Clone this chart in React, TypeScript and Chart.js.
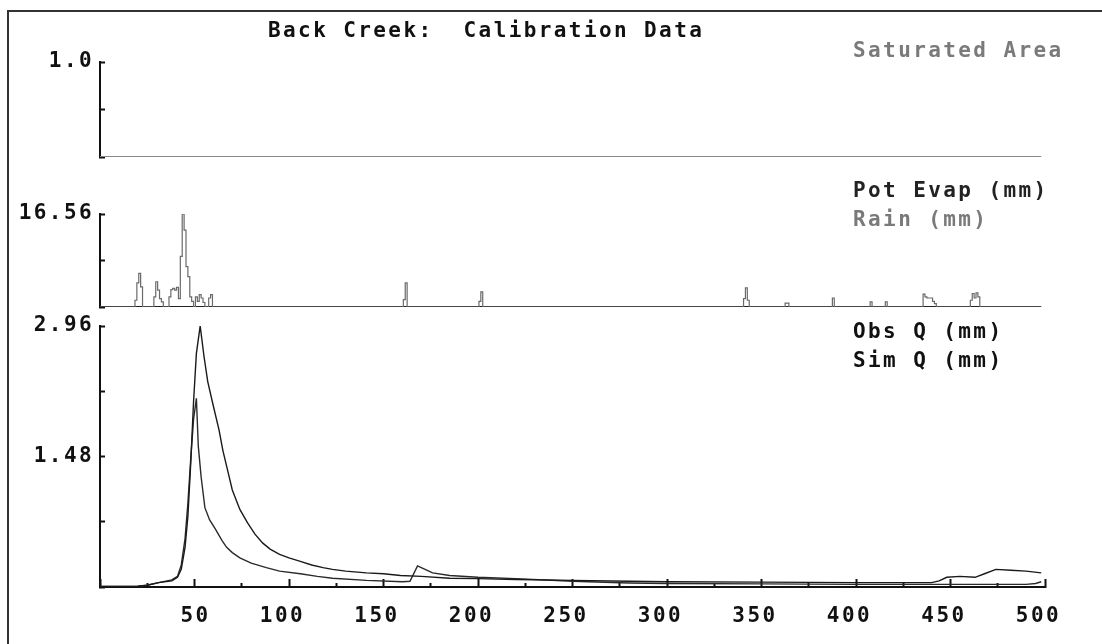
import { useEffect, useRef } from "react";
import { Chart, registerables } from "chart.js";

Chart.register(...registerables);

// ---- chart text -------------------------------------------------------
const TITLE = "Back Creek:  Calibration Data";
const SAT_LABEL = "Saturated Area";
const PE_LABEL = "Pot Evap (mm)";
const RAIN_LABEL = "Rain (mm)";
const OBS_LABEL = "Obs Q (mm)";
const SIM_LABEL = "Sim Q (mm)";

// ---- time axis --------------------------------------------------------
const X_MAX = 500;
const X_STEP = 25;
const X_LABEL_STEP = 50;

// ---- saturated area (fraction of catchment) ---------------------------
const SAT_DAYS = [0, 498];
const SAT_VALUES = [0, 0];
const SAT_Y_TICKS = [0, 0.5, 1.0];
const SAT_Y_LABELS = ["", "", "1.0"];

// ---- rainfall and potential evaporation (mm/day) ----------------------
const RAIN_DAYS = [
  19, 20, 21, 22, 29, 30, 31, 32, 33, 37, 38, 39, 40, 41, 42, 43, 44, 45, 46, 47, 48, 49, 51,
  52, 53, 54, 55, 58, 59, 161, 162, 201, 202, 341, 342, 343, 363, 364, 388, 408, 416, 436, 437,
  438, 439, 440, 441, 442, 461, 462, 463, 464, 465,
];
const RAIN_MM = [
  1.2, 4.3, 6.0, 3.6, 1.8, 4.5, 3.0, 1.5, 0.9, 1.8, 3.1, 3.3, 3.0, 3.5, 1.5, 9.0, 16.56, 13.7, 7.2,
  5.4, 1.8, 1.0, 1.8, 1.0, 2.2, 1.6, 0.8, 1.6, 2.2, 1.3, 4.3, 1.0, 2.7, 1.5, 3.4, 1.2, 0.7, 0.7,
  1.6, 0.9, 0.9, 2.3, 1.8, 1.6, 1.6, 1.6, 1.0, 0.6, 1.2, 2.4, 1.6, 2.5, 1.8,
];
const RECORD_DAYS = 498;
const PE_DAYS = [0, 498];
const PE_MM = [0, 0];
const RAIN_Y_TICKS = [0, 8.28, 16.56];
const RAIN_Y_LABELS = ["", "", "16.56"];

// ---- discharge (mm/day) -----------------------------------------------
const OBS_DAYS = [
  0, 10, 20, 25, 31, 38, 41, 43, 45, 46.5, 48, 49.5, 51, 53, 55, 57, 60, 63, 65, 68, 70, 74, 78,
  82, 86, 90, 95, 100, 106, 112, 118, 123, 130, 141, 150, 159, 170, 185, 200, 220, 250, 280, 300,
  350, 400, 440, 444, 448, 455, 463, 468, 474, 482, 490, 498,
];
const OBS_Q = [
  0.005, 0.005, 0.008, 0.02, 0.05, 0.07, 0.11, 0.2, 0.45, 0.8, 1.4, 2.1, 2.65, 2.96, 2.62, 2.33,
  2.05, 1.78, 1.55, 1.28, 1.1, 0.88, 0.73, 0.6, 0.5, 0.43, 0.37, 0.33, 0.29, 0.25, 0.22, 0.2,
  0.18, 0.16, 0.15, 0.13, 0.12, 0.1, 0.095, 0.085, 0.075, 0.065, 0.06, 0.055, 0.05, 0.05, 0.07,
  0.11, 0.12, 0.11, 0.15, 0.2, 0.19, 0.18, 0.16,
];
const SIM_DAYS = [
  0, 20, 25, 31, 38, 41, 43, 45, 46.5, 48, 49.5, 51, 52, 53.5, 55.5, 58, 61, 64.5, 67, 70, 74, 80,
  88, 95, 106, 115, 123, 141, 160, 164, 168, 172, 176, 185, 200, 220, 250, 280, 300, 350, 400, 450,
  490, 495, 498,
];
const SIM_Q = [
  0.005, 0.008, 0.02, 0.05, 0.08, 0.12, 0.25, 0.55, 0.95, 1.45, 1.9, 2.14, 1.6, 1.25, 0.9, 0.76,
  0.66, 0.53, 0.45, 0.39, 0.33, 0.27, 0.22, 0.18, 0.15, 0.12, 0.1, 0.075, 0.06, 0.065, 0.24, 0.2,
  0.16, 0.13, 0.11, 0.095, 0.065, 0.045, 0.04, 0.035, 0.03, 0.03, 0.03, 0.04, 0.06,
];
const Q_Y_TICKS = [0, 0.74, 1.48, 2.22, 2.96];
const Q_Y_LABELS = ["", "", "1.48", "", "2.96"];

// ---- look ---------------------------------------------------------------
const W = 1102;
const H = 644;
const PLOT_LEFT = 100;
const PLOT_RIGHT = 1045;
const Y_AXIS_W = 90;
const X_AXIS_H = 40;
const INK = "#111111";
const GREY = "#7a7a7a";
const FONT_FAMILY = '"DejaVu Sans Mono", "Liberation Mono", monospace';
const FONT = { family: FONT_FAMILY, size: 21, weight: "bold" as const };
const LETTER_SPACING = "2.4px";

const points = (xs: number[], ys: number[]) => xs.map((x, i) => ({ x, y: ys[i] }));

function dailyRain() {
  const byDay = new Map<number, number>();
  RAIN_DAYS.forEach((d, i) => byDay.set(d, RAIN_MM[i]));
  return Array.from({ length: RECORD_DAYS + 1 }, (_, d) => ({ x: d, y: byDay.get(d) ?? 0 }));
}

// Wide, blocky lettering for every label the charts draw.
const spacingPlugin = {
  id: "wideText",
  beforeDraw(chart: any) {
    chart.ctx.letterSpacing = LETTER_SPACING;
  },
};

// Free-standing captions (title and series names) placed in canvas pixels.
const captionPlugin = {
  id: "captions",
  afterDraw(chart: any, _args: any, opts: any) {
    const ctx = chart.ctx;
    (opts.items || []).forEach((it: any) => {
      ctx.save();
      ctx.font = `bold ${FONT.size}px ${FONT_FAMILY}`;
      ctx.letterSpacing = LETTER_SPACING;
      ctx.fillStyle = it.color;
      ctx.textAlign = "left";
      ctx.textBaseline = "middle";
      ctx.fillText(it.text, it.x, it.y);
      ctx.restore();
    });
  },
};

type Panel = {
  top: number;
  bottom: number;
  yMax: number;
  yTicks: number[];
  yLabels: string[];
  showX: boolean;
  datasets: any[];
  captions: { text: string; x: number; y: number; color: string }[];
};

function panelConfig(p: Panel): any {
  return {
    type: "line",
    data: { datasets: p.datasets },
    options: {
      responsive: false,
      animation: false,
      events: [],
      layout: {
        padding: {
          left: PLOT_LEFT - Y_AXIS_W,
          right: W - PLOT_RIGHT,
          top: p.top,
          bottom: H - p.bottom - (p.showX ? X_AXIS_H : 0),
        },
      },
      elements: { point: { radius: 0 }, line: { tension: 0 } },
      plugins: {
        legend: { display: false },
        tooltip: { enabled: false },
        captions: { items: p.captions },
      },
      scales: {
        x: {
          type: "linear",
          min: 0,
          max: X_MAX,
          display: p.showX,
          afterFit: (s: any) => {
            s.height = p.showX ? X_AXIS_H : 0;
          },
          border: { display: true, color: INK, width: 2 },
          grid: {
            drawOnChartArea: false,
            drawTicks: true,
            tickLength: -8,
            tickWidth: 2,
            tickColor: INK,
            tickBorderDash: (ctx: any) =>
              ctx.tick && ctx.tick.value % X_LABEL_STEP === 0 ? [] : [5, 30],
          },
          ticks: {
            stepSize: X_STEP,
            autoSkip: false,
            maxRotation: 0,
            minRotation: 0,
            align: "end",
            labelOffset: 16,
            padding: 25,
            color: INK,
            font: FONT,
            callback: (v: number) => (v > 0 && v % X_LABEL_STEP === 0 ? String(v) : ""),
          },
        },
        y: {
          type: "linear",
          min: 0,
          max: p.yMax,
          afterFit: (s: any) => {
            s.width = Y_AXIS_W;
          },
          afterBuildTicks: (s: any) => {
            s.ticks = p.yTicks.map((value) => ({ value }));
          },
          border: { display: true, color: INK, width: 2 },
          grid: {
            drawOnChartArea: false,
            drawTicks: true,
            tickLength: -5,
            tickWidth: 2,
            tickColor: INK,
          },
          ticks: {
            autoSkip: false,
            padding: 11,
            color: INK,
            font: FONT,
            callback: (_v: number, i: number) => p.yLabels[i] ?? "",
          },
        },
      },
    },
    plugins: [spacingPlugin, captionPlugin],
  };
}

const LEGEND_X = 853;

export default function App() {
  const satRef = useRef<HTMLCanvasElement>(null);
  const rainRef = useRef<HTMLCanvasElement>(null);
  const qRef = useRef<HTMLCanvasElement>(null);

  useEffect(() => {
    const sat = new Chart(
      satRef.current as HTMLCanvasElement,
      panelConfig({
        top: 62,
        bottom: 157,
        yMax: 1.0,
        yTicks: SAT_Y_TICKS,
        yLabels: SAT_Y_LABELS,
        showX: false,
        datasets: [
          {
            label: SAT_LABEL,
            data: points(SAT_DAYS, SAT_VALUES),
            borderColor: "#8a8a8a",
            borderWidth: 2,
          },
        ],
        captions: [
          { text: TITLE, x: 268, y: 32, color: INK },
          { text: SAT_LABEL, x: LEGEND_X, y: 52, color: GREY },
        ],
      })
    );

    const rain = new Chart(
      rainRef.current as HTMLCanvasElement,
      panelConfig({
        top: 214,
        bottom: 307,
        yMax: 16.56,
        yTicks: RAIN_Y_TICKS,
        yLabels: RAIN_Y_LABELS,
        showX: false,
        datasets: [
          {
            label: RAIN_LABEL,
            data: dailyRain(),
            borderColor: "#6a6a6a",
            borderWidth: 1.2,
            stepped: "middle",
          },
          {
            label: PE_LABEL,
            data: points(PE_DAYS, PE_MM),
            borderColor: "#222222",
            borderWidth: 2,
          },
        ],
        captions: [
          { text: PE_LABEL, x: LEGEND_X, y: 192, color: "#222222" },
          { text: RAIN_LABEL, x: LEGEND_X, y: 221, color: GREY },
        ],
      })
    );

    const q = new Chart(
      qRef.current as HTMLCanvasElement,
      panelConfig({
        top: 326,
        bottom: 587,
        yMax: 2.96,
        yTicks: Q_Y_TICKS,
        yLabels: Q_Y_LABELS,
        showX: true,
        datasets: [
          {
            label: OBS_LABEL,
            data: points(OBS_DAYS, OBS_Q),
            borderColor: "#1a1a1a",
            borderWidth: 1.4,
          },
          {
            label: SIM_LABEL,
            data: points(SIM_DAYS, SIM_Q),
            borderColor: "#2a2a2a",
            borderWidth: 1.4,
          },
        ],
        captions: [
          { text: OBS_LABEL, x: LEGEND_X, y: 333, color: INK },
          { text: SIM_LABEL, x: LEGEND_X, y: 362, color: INK },
        ],
      })
    );

    return () => {
      sat.destroy();
      rain.destroy();
      q.destroy();
    };
  }, []);

  const layer: React.CSSProperties = { position: "absolute", left: 0, top: 0 };

  return (
    <div
      style={{
        position: "fixed",
        left: 0,
        top: 0,
        width: W,
        height: H,
        overflow: "hidden",
        background: "#ffffff",
      }}
    >
      <div
        style={{
          position: "absolute",
          left: 7,
          top: 10,
          width: 1300,
          height: 900,
          border: "2px solid #333333",
          boxSizing: "border-box",
        }}
      />
      <canvas ref={satRef} width={W} height={H} style={layer} />
      <canvas ref={rainRef} width={W} height={H} style={layer} />
      <canvas ref={qRef} width={W} height={H} style={layer} />
    </div>
  );
}
